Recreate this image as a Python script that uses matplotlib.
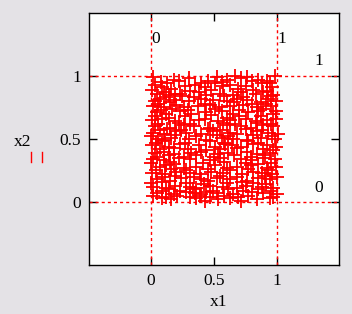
import matplotlib
matplotlib.use("Agg")
import matplotlib.pyplot as plt
from matplotlib.lines import Line2D

# point cloud, row by row (x1, x2)
x1_vals = [
    0.02, 0.18, 0.30, 0.45, 0.52, 0.60, 0.67, 0.71, 0.76, 0.85, 0.92, 0.98,
    0.08, 0.22, 0.40, 0.56, 0.80, 0.94,
    0.03, 0.09, 0.13, 0.27, 0.35, 0.43, 0.51, 0.57, 0.63, 0.75, 0.88, 0.96,
    0.01, 0.16, 0.31, 0.48, 0.69, 0.81, 0.92,
    0.05, 0.10, 0.14, 0.19, 0.23, 0.38, 0.44, 0.55, 0.65, 0.71, 0.83, 0.89, 0.97,
    0.12, 0.25, 0.34, 0.58, 0.73, 0.95,
    0.03, 0.07, 0.18, 0.30, 0.40, 0.49, 0.60, 0.68, 0.76, 0.87, 0.93, 0.99,
    0.06, 0.15, 0.43, 0.66, 0.80, 0.91,
    0.02, 0.10, 0.20, 0.26, 0.37, 0.47, 0.54, 0.63, 0.73, 0.84, 0.95,
    0.08, 0.17, 0.29, 0.51, 0.70, 0.89, 0.99,
    0.05, 0.12, 0.23, 0.32, 0.44, 0.56, 0.65, 0.77, 0.85, 0.97,
    0.03, 0.14, 0.27, 0.48, 0.60, 0.70, 0.87,
    0.01, 0.09, 0.19, 0.38, 0.43, 0.53, 0.63, 0.75, 0.83, 0.92, 0.99,
    0.06, 0.22, 0.31, 0.57, 0.67, 0.84, 0.95,
    0.03, 0.15, 0.26, 0.34, 0.47, 0.60, 0.71, 0.79, 0.89, 0.97,
    0.07, 0.13, 0.24, 0.45, 0.55, 0.75, 0.88,
    0.02, 0.10, 0.20, 0.28, 0.40, 0.49, 0.63, 0.68, 0.84, 0.93, 1.01,
    0.00, 0.19, 0.36, 0.52, 0.61, 0.81, 0.96,
    0.06, 0.11, 0.16, 0.30, 0.44, 0.56, 0.65, 0.76, 0.87, 0.98,
    0.04, 0.09, 0.27, 0.47, 0.58, 0.77, 0.85,
    0.01, 0.14, 0.23, 0.38, 0.51, 0.59, 0.64, 0.71, 0.81, 0.92, 0.99,
    0.07, 0.18, 0.29, 0.44, 0.55, 0.68, 0.89, 0.97,
    0.03, 0.10, 0.18, 0.32, 0.40, 0.53, 0.61, 0.76, 0.84, 0.94,
    0.05, 0.14, 0.26, 0.36, 0.50, 0.66, 0.79, 0.90,
    0.02, 0.10, 0.22, 0.31, 0.47, 0.55, 0.71, 0.80, 0.89, 0.98,
    0.00, 0.15, 0.18, 0.41, 0.58, 0.75, 0.85, 0.95,
    0.07, 0.12, 0.26, 0.36, 0.51, 0.60, 0.68, 0.79, 0.92, 0.99,
    0.04, 0.16, 0.28, 0.45, 0.63, 0.77, 0.93,
    0.01, 0.11, 0.20, 0.31, 0.39, 0.48, 0.57, 0.72, 0.81, 0.88, 0.96,
    0.09, 0.19, 0.34, 0.55, 0.68, 0.90, 1.00,
    0.05, 0.15, 0.24, 0.40, 0.45, 0.52, 0.63, 0.76, 0.85, 0.94,
    0.00, 0.09, 0.28, 0.42, 0.60, 0.72, 0.81, 0.91,
    0.02, 0.12, 0.19, 0.31, 0.36, 0.47, 0.57, 0.68, 0.75, 0.88, 0.97,
    0.09, 0.14, 0.23, 0.33, 0.49, 0.61, 0.73, 0.85, 0.95,
    0.05, 0.18, 0.28, 0.35, 0.40, 0.44, 0.52, 0.65, 0.80, 0.89, 1.00,
    0.02, 0.12, 0.21, 0.31, 0.39, 0.47, 0.58, 0.69, 0.77, 0.97,
    0.09, 0.16, 0.36, 0.43, 0.53, 0.63, 0.71, 0.84, 0.94,
]
x2_vals = [
    0.99, 0.97, 0.98, 0.96, 0.99, 0.97, 1.00, 0.98, 0.99, 0.97, 0.96, 1.00,
    0.95, 0.96, 0.94, 0.95, 0.96, 0.94,
    0.93, 0.91, 0.94, 0.92, 0.93, 0.91, 0.94, 0.92, 0.93, 0.92, 0.94, 0.91,
    0.89, 0.90, 0.88, 0.89, 0.90, 0.89, 0.88,
    0.86, 0.87, 0.85, 0.86, 0.86, 0.87, 0.85, 0.86, 0.85, 0.87, 0.86, 0.87, 0.85,
    0.83, 0.84, 0.83, 0.84, 0.83, 0.84,
    0.80, 0.82, 0.81, 0.80, 0.82, 0.81, 0.80, 0.82, 0.81, 0.79, 0.82, 0.80,
    0.78, 0.79, 0.78, 0.79, 0.78, 0.78,
    0.76, 0.75, 0.77, 0.75, 0.76, 0.77, 0.75, 0.76, 0.77, 0.75, 0.76,
    0.73, 0.74, 0.73, 0.74, 0.73, 0.74, 0.72,
    0.71, 0.70, 0.72, 0.70, 0.71, 0.72, 0.70, 0.71, 0.72, 0.70,
    0.68, 0.67, 0.68, 0.69, 0.67, 0.68, 0.68,
    0.65, 0.66, 0.64, 0.65, 0.66, 0.64, 0.65, 0.66, 0.64, 0.65, 0.66,
    0.62, 0.63, 0.62, 0.63, 0.62, 0.63, 0.62,
    0.60, 0.59, 0.61, 0.60, 0.59, 0.61, 0.60, 0.59, 0.61, 0.60,
    0.57, 0.58, 0.57, 0.58, 0.57, 0.58, 0.57,
    0.55, 0.54, 0.56, 0.55, 0.54, 0.56, 0.55, 0.54, 0.56, 0.55, 0.54,
    0.52, 0.53, 0.52, 0.53, 0.52, 0.53, 0.52,
    0.50, 0.49, 0.51, 0.50, 0.49, 0.51, 0.50, 0.49, 0.51, 0.50,
    0.47, 0.48, 0.47, 0.48, 0.47, 0.48, 0.47,
    0.45, 0.44, 0.46, 0.45, 0.44, 0.46, 0.45, 0.44, 0.46, 0.45, 0.44,
    0.42, 0.43, 0.42, 0.41, 0.42, 0.43, 0.42, 0.41,
    0.39, 0.40, 0.38, 0.39, 0.40, 0.38, 0.39, 0.40, 0.38, 0.39,
    0.36, 0.37, 0.36, 0.37, 0.36, 0.37, 0.36, 0.37,
    0.34, 0.33, 0.35, 0.34, 0.33, 0.35, 0.34, 0.33, 0.35, 0.34,
    0.31, 0.32, 0.30, 0.31, 0.32, 0.31, 0.30, 0.31,
    0.28, 0.29, 0.27, 0.28, 0.29, 0.27, 0.28, 0.29, 0.27, 0.28,
    0.25, 0.26, 0.25, 0.26, 0.25, 0.26, 0.25,
    0.23, 0.22, 0.24, 0.23, 0.22, 0.24, 0.23, 0.22, 0.24, 0.23, 0.22,
    0.20, 0.21, 0.20, 0.21, 0.20, 0.21, 0.20,
    0.18, 0.17, 0.19, 0.18, 0.17, 0.19, 0.18, 0.17, 0.19, 0.18,
    0.15, 0.16, 0.15, 0.14, 0.15, 0.16, 0.15, 0.14,
    0.12, 0.11, 0.13, 0.12, 0.11, 0.13, 0.12, 0.11, 0.13, 0.12, 0.11,
    0.09, 0.10, 0.09, 0.10, 0.09, 0.10, 0.09, 0.10, 0.09,
    0.07, 0.06, 0.08, 0.07, 0.06, 0.08, 0.07, 0.06, 0.08, 0.07, 0.06,
    0.05, 0.04, 0.05, 0.04, 0.05, 0.04, 0.05, 0.04, 0.05, 0.04,
    0.03, 0.02, 0.03, 0.01, 0.02, 0.03, 0.01, 0.02, 0.03,
]
tick_vals = [0, 0.5, 1]
tick_labels = ["0", "0.5", "1"]
marker_lines = [0, 1]

plt.rcParams['font.family'] = ['Liberation Serif', 'DejaVu Serif']

fig = plt.figure(figsize=(3.52, 3.14), dpi=100, facecolor='#e4e2e6')
ax = fig.add_axes([0.253, 0.156, 0.710, 0.803])
ax.set_facecolor('#fdfefd')

# scatter of crosses
ax.plot(x1_vals, x2_vals, linestyle='none', marker='+', color='#ff0000',
        markersize=10, markeredgewidth=1.3)

# red dotted marker lines at 0 and 1
for v in marker_lines:
    ax.axvline(v, color='#ff0000', linewidth=1.0, linestyle=(0, (2.2, 2.2)))
    ax.axhline(v, color='#ff0000', linewidth=1.0, linestyle=(0, (2.2, 2.2)))

fs = 12.5
ax.text(0.0, 1.29, "0", fontsize=fs, ha='left', va='center')
ax.text(1.0, 1.29, "1", fontsize=fs, ha='left', va='center')
ax.text(1.33, 1.12, "1", fontsize=fs, ha='center', va='center')
ax.text(1.33, 0.11, "0", fontsize=fs, ha='center', va='center')

ax.set_xlim(-0.49, 1.49)
ax.set_ylim(-0.5, 1.5)
ax.set_xticks(tick_vals)
ax.set_xticklabels(tick_labels)
ax.set_yticks(tick_vals)
ax.set_yticklabels(tick_labels)
ax.tick_params(direction='in', length=6, width=1.0, labelsize=fs,
               top=True, right=True, pad=6, colors='black')

for s in ax.spines.values():
    s.set_linewidth(1.0)
    s.set_color('black')

fig.text(23 / 352, 1 - 142 / 314, "x2", fontsize=fs, ha='center', va='center')
fig.text(219 / 352, 1 - 302 / 314, "x1", fontsize=fs, ha='center', va='center')

# legend-like trace symbol under x2
for px in (31, 42):
    fig.add_artist(Line2D([px / 352, px / 352], [1 - 152 / 314, 1 - 162 / 314],
                          transform=fig.transFigure, color='#ff0000', linewidth=1.0))

fig.savefig("out.png", dpi=100, facecolor=fig.get_facecolor())
